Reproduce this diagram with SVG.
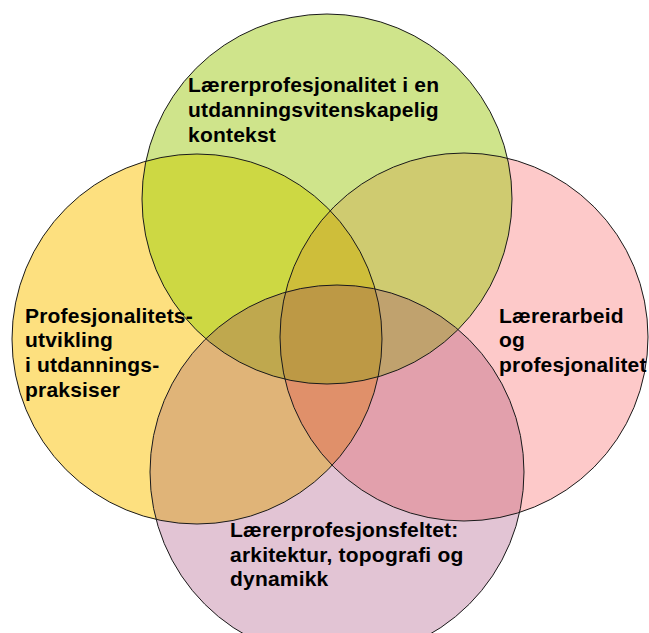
<svg xmlns="http://www.w3.org/2000/svg" width="649" height="633" viewBox="0 0 649 633">
<style>
.lbl{font-family:"Liberation Sans",Arial,sans-serif;font-weight:bold;font-size:21px;letter-spacing:0.2px;fill:#000}
.ol{fill:none;stroke:#1a1a1a;stroke-width:1}
</style>
<defs>
<circle id="T" cx="327" cy="199" r="185"/>
<circle id="L" cx="197" cy="339" r="185"/>
<circle id="R" cx="464" cy="337" r="184"/>
<circle id="B" cx="337" cy="472" r="187"/>
<clipPath id="cT"><use href="#T"/></clipPath>
<clipPath id="cL"><use href="#L"/></clipPath>
<clipPath id="cR"><use href="#R"/></clipPath>
<clipPath id="cB"><use href="#B"/></clipPath>
</defs>
<rect width="649" height="633" fill="#fff"/>
<g id="fills">
<use href="#L" fill="#fde07f"/>
<use href="#R" fill="#fdc9c9"/>
<use href="#B" fill="#e2c4d4"/>
<use href="#T" fill="#cfe48b"/>
<use href="#L" fill="#cdd843" clip-path="url(#cT)"/>
<use href="#R" fill="#cfcb70" clip-path="url(#cT)"/>
<use href="#L" fill="#e0b478" clip-path="url(#cB)"/>
<use href="#R" fill="#e2a0ac" clip-path="url(#cB)"/>
<use href="#B" fill="#c9b47a" clip-path="url(#cT)"/>
<g clip-path="url(#cT)"><use href="#R" fill="#cebe3a" clip-path="url(#cL)"/></g>
<g clip-path="url(#cT)"><use href="#L" fill="#bfa84e" clip-path="url(#cB)"/></g>
<g clip-path="url(#cT)"><use href="#R" fill="#c0a26e" clip-path="url(#cB)"/></g>
<g clip-path="url(#cL)"><use href="#R" fill="#e0906a" clip-path="url(#cB)"/></g>
<g clip-path="url(#cT)"><g clip-path="url(#cL)"><use href="#R" fill="#bd9945" clip-path="url(#cB)"/></g></g>
</g>
<g id="node-left">
<use href="#L" class="ol"/>
<text class="lbl" x="25"><tspan x="25" y="322.5">Profesjonalitets-</tspan><tspan x="25" y="347.3">utvikling</tspan><tspan x="25" y="372">i utdannings-</tspan><tspan x="25" y="396.7">praksiser</tspan></text>
</g>
<g id="node-right">
<use href="#R" class="ol"/>
<text class="lbl" x="499"><tspan x="499" y="322.5">Lærerarbeid</tspan><tspan x="499" y="347.2">og</tspan><tspan x="499" y="371.7">profesjonalitet</tspan></text>
</g>
<g id="node-bottom">
<use href="#B" class="ol"/>
<text class="lbl" x="230"><tspan x="230" y="537.3">Lærerprofesjonsfeltet:</tspan><tspan x="230" y="561.7">arkitektur, topografi og</tspan><tspan x="230" y="586">dynamikk</tspan></text>
</g>
<g id="node-top">
<use href="#T" class="ol"/>
<text class="lbl" x="188"><tspan x="188" y="92.3">Lærerprofesjonalitet i en</tspan><tspan x="188" y="117.3">utdanningsvitenskapelig</tspan><tspan x="188" y="142.3">kontekst</tspan></text>
</g>
</svg>
